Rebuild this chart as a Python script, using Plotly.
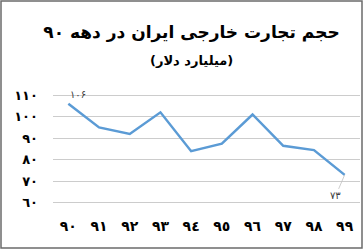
import plotly.graph_objects as go

years = ["٩٠", "٩١", "٩٢", "٩٣", "٩٤", "٩٥", "٩٦", "٩٧", "٩٨", "٩٩"]
trade = [106, 95, 92, 102, 84, 87.5, 101, 86.5, 84.5, 73]
ytick_vals = [60, 70, 80, 90, 100, 110]
ytick_text = ["٦٠", "٧٠", "٨٠", "٩٠", "١٠٠", "١١٠"]
title_text = "حجم تجارت خارجی ایران در دهه ۹۰"
subtitle_text = "(میلیارد دلار)"
first_label = "۱۰۶"
last_label = "۷۳"

W, H = 363, 249
# y range padded slightly so the 60 and 110 gridlines are drawn
Y0, Y1 = 59.5, 110.5
px_per_unit = 2.16
pad = 0.5 * px_per_unit
ML, MR = 53, 3
MT = round(95 - pad)
MB = round(H - 203 - pad)
pw, ph = W - ML - MR, H - MT - MB

font_fam = "DejaVu Sans"

fig = go.Figure()
fig.add_trace(go.Scatter(
    x=list(range(len(years))), y=trade, mode="lines",
    line=dict(color="#5B9BD5", width=2.5), hoverinfo="skip"))

fig.add_annotation(x=0, y=trade[0], text=first_label, showarrow=False,
                   xshift=10, yshift=9, font=dict(family=font_fam, size=10, color="#404040"))
fig.add_annotation(x=len(years) - 1, y=trade[-1], text=last_label, showarrow=True,
                   ax=-9, ay=21, arrowhead=0, arrowwidth=0.8, arrowcolor="#c0c0c0",
                   standoff=0, startstandoff=0,
                   font=dict(family=font_fam, size=10, color="#404040"))

fig.add_annotation(xref="paper", yref="paper", x=((152 + 230) / 2 - ML) / pw,
                   y=1 + (MT - 60) / ph, yanchor="middle",
                   text="<b>" + subtitle_text + "</b>", showarrow=False,
                   font=dict(family=font_fam, size=13, color="black"))

fig.add_shape(type="rect", xref="paper", yref="paper",
              x0=(1 - ML) / pw, x1=(W - 1 - ML) / pw,
              y0=-(MB - 1) / ph, y1=1 + (MT - 1) / ph,
              line=dict(color="#6b6b6b", width=1.5))

fig.update_layout(
    width=W, height=H,
    margin=dict(l=ML, r=MR, t=MT, b=MB),
    paper_bgcolor="white", plot_bgcolor="white",
    showlegend=False,
    title=dict(text="<b>" + title_text + "</b>", x=((53 + 330) / 2) / W, xanchor="center",
               y=1 - 32 / H, yanchor="middle",
               font=dict(family=font_fam, size=17, color="black")),
    xaxis=dict(tickmode="array", tickvals=list(range(len(years))), ticktext=years,
               range=[-0.5, len(years) - 0.5], showgrid=False, zeroline=False,
               showline=False, ticks="", ticklabelstandoff=12,
               tickfont=dict(family=font_fam, size=14, color="black", weight="bold")),
    yaxis=dict(tickmode="array", tickvals=ytick_vals, ticktext=ytick_text,
               range=[Y0, Y1], showgrid=True, gridcolor="#cccccc", gridwidth=1,
               zeroline=False, showline=False, ticks="", ticklabelstandoff=14,
               tickfont=dict(family=font_fam, size=13, color="black", weight="bold")),
)

fig.write_html("out.html")
